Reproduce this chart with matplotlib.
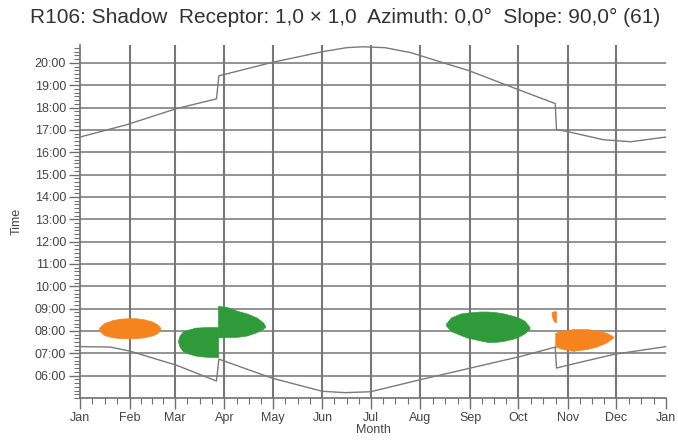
import matplotlib
matplotlib.use("Agg")
import matplotlib.pyplot as plt
import numpy as np

plt.rcParams['font.family'] = ['Liberation Sans', 'DejaVu Sans']

# month starts (day of year, non-leap)
month_starts = [0, 31, 59, 90, 120, 151, 181, 212, 243, 273, 304, 334, 365]
month_labels = ['Jan', 'Feb', 'Mar', 'Apr', 'May', 'Jun', 'Jul', 'Aug',
                'Sep', 'Oct', 'Nov', 'Dec', 'Jan']
hour_ticks = list(range(6, 21))
hour_labels = ['%02d:00' % h for h in hour_ticks]

# sunset (upper curve), day of year -> hour
sunset_day = [0, 29, 60, 85, 86.5, 119, 151, 166, 176, 190, 206, 226, 242,
              268, 296, 296.8, 304, 326, 343, 365]
sunset_hr = [16.68, 17.23, 17.95, 18.39, 19.42, 20.01, 20.5, 20.68, 20.72,
             20.68, 20.46, 20.01, 19.66, 18.94, 18.18, 17.02, 16.92, 16.56,
             16.47, 16.68]

# sunrise (lower curve)
sunrise_day = [0, 19, 31, 60, 85, 86.5, 120, 151, 165, 181, 212, 242, 275,
               296, 296.8, 304, 333, 365]
sunrise_hr = [7.3, 7.28, 7.1, 6.47, 5.76, 6.74, 5.88, 5.3, 5.24, 5.28, 5.82,
              6.32, 6.87, 7.28, 6.34, 6.47, 6.96, 7.3]

# shadow periods: (days, lower hour, upper hour)
orange1_day = [12, 15, 20, 25, 30, 35, 40, 45, 48, 50]
orange1_lo = [8.0, 7.82, 7.72, 7.68, 7.67, 7.68, 7.72, 7.8, 7.9, 8.05]
orange1_hi = [8.15, 8.35, 8.48, 8.55, 8.57, 8.57, 8.52, 8.42, 8.3, 8.15]

green1_day = [61, 62, 64, 68, 72, 78, 86]
green1_lo = [7.55, 7.3, 7.1, 6.98, 6.9, 6.85, 6.83]
green1_hi = [7.55, 7.78, 7.97, 8.07, 8.15, 8.17, 8.17]

green2_day = [86, 91, 98, 104, 110, 114, 115.5]
green2_lo = [7.71, 7.73, 7.74, 7.8, 7.95, 8.1, 8.2]
green2_hi = [9.12, 9.08, 8.9, 8.78, 8.6, 8.38, 8.2]

green3_day = [228, 231, 237, 241, 249, 254, 260, 264, 270, 273, 277, 280]
green3_lo = [8.25, 8.0, 7.82, 7.71, 7.58, 7.51, 7.52, 7.56, 7.66, 7.74, 7.9, 8.1]
green3_hi = [8.33, 8.6, 8.78, 8.82, 8.87, 8.87, 8.83, 8.78, 8.67, 8.6, 8.45, 8.17]

orange2_day = [293.8, 295, 296.5]
orange2_lo = [8.7, 8.45, 8.38]
orange2_hi = [8.85, 8.88, 8.88]

orange3_day = [296, 301, 307, 316, 322, 328, 332]
orange3_lo = [7.3, 7.19, 7.11, 7.2, 7.31, 7.49, 7.7]
orange3_hi = [7.92, 8.02, 8.08, 8.08, 8.02, 7.92, 7.75]

ORANGE = '#F5841F'
GREEN = '#2E9A3A'
GRID = '#8a8a8a'
LINE = '#7a7a7a'

fig = plt.figure(figsize=(6.78, 4.43), dpi=100)
ax = fig.add_axes([80/678, 1-398/443, 586/678, 353/443])

ax.set_xlim(0, 365)
ax.set_ylim(5.0, 20.8)

# grid
for h in hour_ticks:
    ax.axhline(h, color=GRID, lw=1.3, zorder=1)
ax.vlines(month_starts[1:-1], 5.0, 20.8, color='#777777', lw=1.5, zorder=1)

for d, lo, hi, c in [(orange1_day, orange1_lo, orange1_hi, ORANGE),
                     (green1_day, green1_lo, green1_hi, GREEN),
                     (green2_day, green2_lo, green2_hi, GREEN),
                     (green3_day, green3_lo, green3_hi, GREEN),
                     (orange2_day, orange2_lo, orange2_hi, ORANGE),
                     (orange3_day, orange3_lo, orange3_hi, ORANGE)]:
    ax.fill_between(d, lo, hi, color=c, lw=0.5, edgecolor=c, zorder=2)

ax.plot(sunset_day, sunset_hr, color=LINE, lw=1.0, zorder=3)
ax.plot(sunrise_day, sunrise_hr, color=LINE, lw=1.0, zorder=3)

ax.set_xticks(month_starts)
ax.set_xticklabels(month_labels)
minor_x = []
for a, b in zip(month_starts[:-1], month_starts[1:]):
    minor_x += [a + (b - a) * k / 4 for k in (1, 2, 3)]
ax.set_xticks(minor_x, minor=True)

ax.set_yticks(hour_ticks)
ax.set_yticklabels(hour_labels)
ax.set_yticks(np.arange(5.0, 20.81, 1/6), minor=True)

for s in ['top', 'right']:
    ax.spines[s].set_visible(False)
for s in ['left', 'bottom']:
    ax.spines[s].set_color('#707070')
    ax.spines[s].set_linewidth(1.2)

ax.tick_params(which='major', length=8, width=1.0, color='#707070',
               labelsize=9, labelcolor='#444444', pad=2)
ax.tick_params(which='minor', length=4, width=0.8, color='#707070')

ax.set_xlabel('Month', fontsize=9, color='#444444', labelpad=0)
ax.set_ylabel('Time', fontsize=9, color='#444444', labelpad=9)

fig.text(345/678, 1-17/443,
         'R106: Shadow  Receptor: 1,0 \u00d7 1,0  Azimuth: 0,0\u00b0  Slope: 90,0\u00b0 (61)',
         ha='center', va='center', fontsize=15, color='#333333')

fig.savefig('out.png', dpi=100)
